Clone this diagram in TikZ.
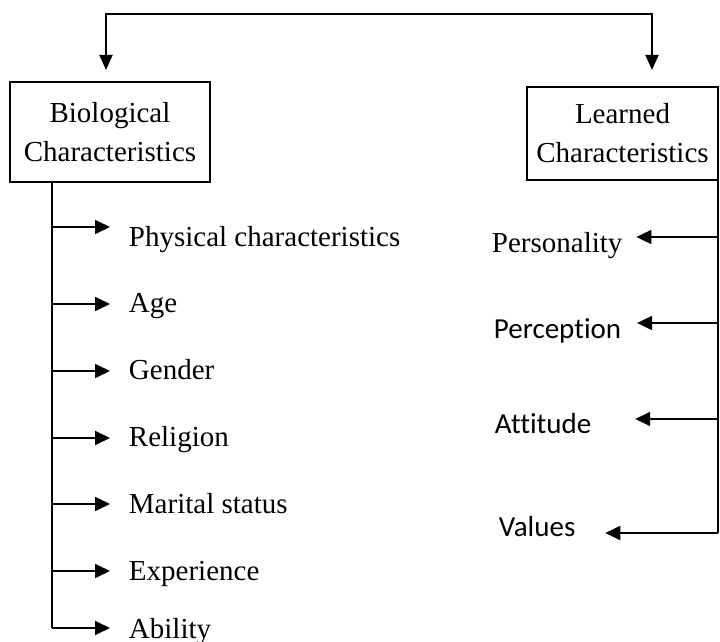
\documentclass[tikz,border=0pt]{standalone}
\usepackage{fontspec}
\setmainfont{Liberation Serif}
\newfontfamily\calib[Ligatures=NoCommon]{Carlito}
\usetikzlibrary{arrows.meta}
\begin{document}
\begin{tikzpicture}[x=1pt,y=-1pt,
  line width=1.9pt,
  arr/.style={-{Triangle[length=15pt,width=14pt]}},
  bothways/.style={{Triangle[length=15pt,width=13pt]}-{Triangle[length=15pt,width=13pt]}},
  catbox/.style={draw,line width=1.9pt,align=center,inner sep=0pt,
    font=\fontsize{29}{39}\selectfont},
  item/.style={anchor=base west,inner sep=0pt,font=\fontsize{29}{34}\selectfont},
  sitem/.style={item,font=\fontsize{29}{34}\selectfont\calib}]
\useasboundingbox (0,0) rectangle (720,642);

% category boxes
\node[catbox,minimum width=200pt,minimum height=100pt] (bio) at (110,132)
  {Biological\\Characteristics};
\node[catbox,minimum width=191pt,minimum height=93pt] (lrn) at (622.5,133.5)
  {Learned\\Characteristics};

% link between the two categories
\coordinate (bioin) at (106,70);
\coordinate (lrnin) at (652,70);
\draw[bothways] (bioin) -- (106,14) -- (652,14) -- (lrnin);

% biological characteristics
\node[item] (phys) at (128,246) {Physical characteristics};
\node[item] (age)  at (128,312) {Age};
\node[item] (gend) at (128,379) {Gender};
\node[item] (rel)  at (128,446) {Religion};
\node[item] (mar)  at (128,513) {Marital status};
\node[item] (exp)  at (128,580) {Experience};
\node[item] (abil) at (128,638) {Ability};

\coordinate (ltop) at (52,182);
\draw (ltop) -- (52,628);
\foreach \n/\y in {phys/227,age/304,gend/371,rel/438,mar/504,exp/571,abil/628}
  \draw[arr] (ltop |- 0,\y) -- ([xshift=-18pt]\n.west |- 0,\y);

% learned characteristics
\node[item]  (pers) at (491,252) {Personality};
\node[sitem] (perc) at (493,338) {Perception};
\node[sitem] (att)  at (494,433) {Attitude};
\node[sitem] (val)  at (498,536) {Values};

\coordinate (rtop) at (718,180);
\draw (rtop) -- (718,533);
\draw[arr] (rtop |- 0,237) -- ([xshift=13pt]pers.east |- 0,237);
\draw[arr] (rtop |- 0,323) -- ([xshift=15pt]perc.east |- 0,323);
\draw[arr] (rtop |- 0,419) -- ([xshift=43pt]att.east |- 0,419);
\draw[arr] (rtop |- 0,533) -- ([xshift=29pt]val.east |- 0,533);
\end{tikzpicture}
\end{document}
